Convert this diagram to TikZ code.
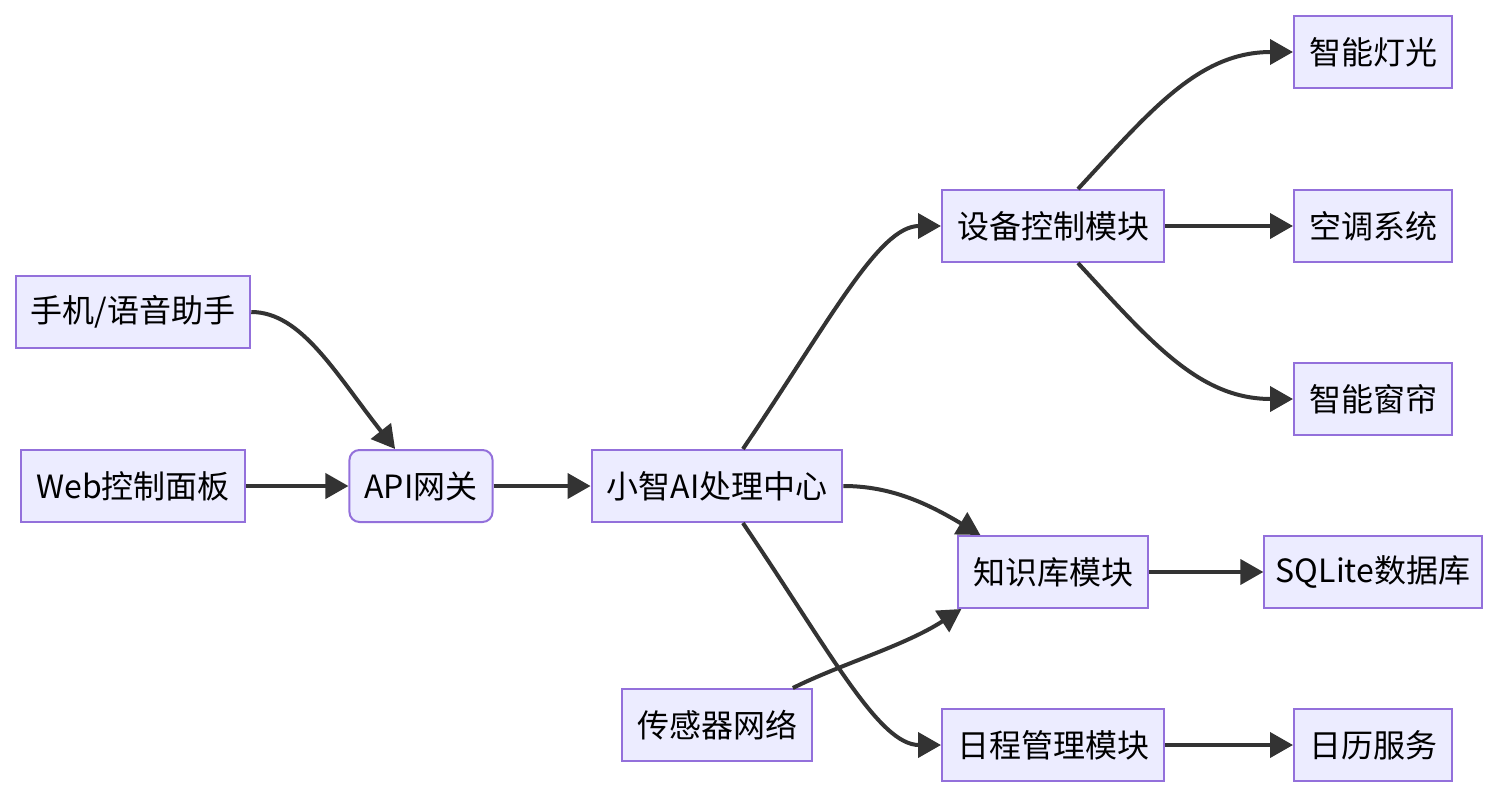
\documentclass[tikz,border=0pt]{standalone}
\usepackage{fontspec}
\setmainfont{Noto Sans CJK SC}
\usetikzlibrary{arrows.meta}
\definecolor{boxfill}{HTML}{ECECFF}
\definecolor{boxline}{HTML}{9370DB}
\definecolor{edgeline}{HTML}{333333}
\begin{document}
\begin{tikzpicture}[x=0.5pt, y=-0.5pt,
  box/.style={rectangle, draw=boxline, fill=boxfill, line width=1pt, minimum height=36pt, inner xsep=7.5pt, font=\fontsize{16pt}{19pt}\selectfont},
  edge/.style={draw=edgeline, line width=2pt, -{Triangle[length=11.5pt, width=12.5pt]}}]
\useasboundingbox (0,0) rectangle (1498,798);
\node[box] (phone) at (133,312){手机/语音助手};
\node[box] (web) at (133,486){Web控制面板};
\node[box, rounded corners=5pt] (api) at (421,486){API网关};
\node[box] (ai) at (717,486){小智AI处理中心};
\node[box] (sensor) at (717,725){传感器网络};
\node[box] (dev) at (1053,226){设备控制模块};
\node[box] (kb) at (1053,572){知识库模块};
\node[box] (sched) at (1053,745){日程管理模块};
\node[box] (light) at (1373,52){智能灯光};
\node[box] (ac) at (1373,226){空调系统};
\node[box] (curtain) at (1373,399){智能窗帘};
\node[box, inner xsep=5.75pt] (sqlite) at (1373,572){SQLite数据库};
\node[box] (cal) at (1373,745){日历服务};

\draw[edge] (phone.east) .. controls +(50,0) and +(-60,-76) .. (api.125);
\draw[edge] (web) -- (api);
\draw[edge] (api) -- (ai);
\draw[edge] (ai.55) .. controls +(88,-130) and +(-62,0) .. (dev.west);
\draw[edge] (ai.east) .. controls +(48,0) and +(-52,-31) .. (kb.153);
\draw[edge] (ai.-55) .. controls +(88,130) and +(-62,0) .. (sched.west);
\draw[edge] (sensor.26) .. controls +(48,-24) and +(-57,37) .. (kb.202);
\draw[edge] (dev.56) .. controls +(73,-79) and +(-94,0) .. (light.west);
\draw[edge] (dev) -- (ac);
\draw[edge] (dev.-56) .. controls +(73,79) and +(-94,0) .. (curtain.west);
\draw[edge] (kb) -- (sqlite);
\draw[edge] (sched) -- (cal);

\end{tikzpicture}
\end{document}
